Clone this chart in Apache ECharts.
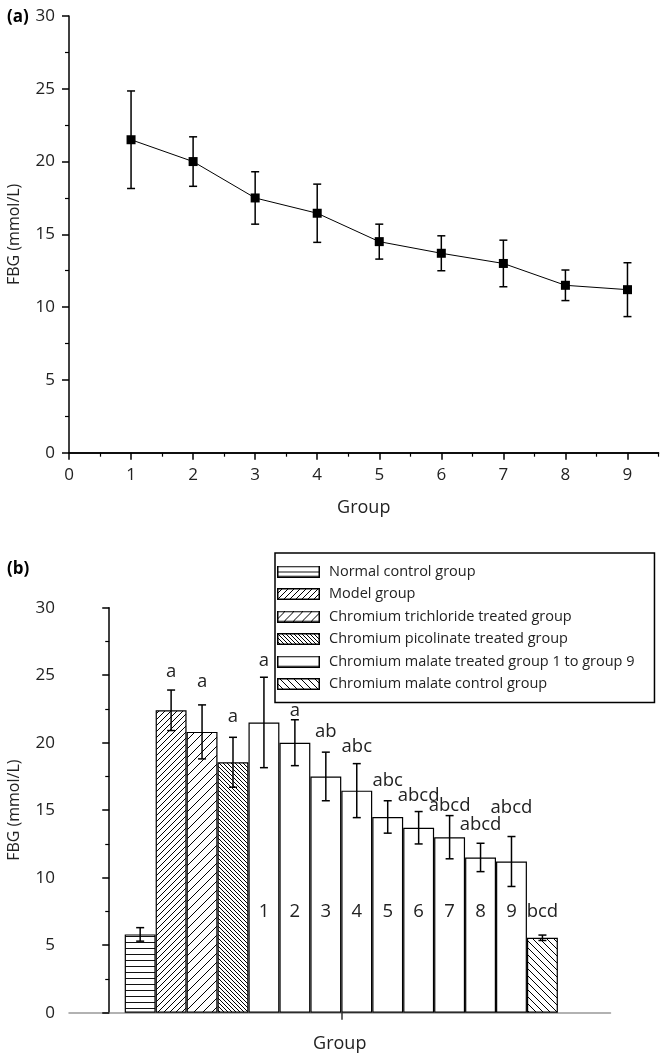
<!DOCTYPE html>
<html><head><meta charset="utf-8">
<script src="https://cdn.jsdelivr.net/npm/echarts@6/dist/echarts.min.js"></script>
<style>html,body{margin:0;padding:0;background:#fff}#c{width:661px;height:1055px}</style>
</head><body><div id="c"></div>
<script>
// ---------- data ----------
const malateGroups = [1, 2, 3, 4, 5, 6, 7, 8, 9];
const malateMean = [21.5, 20.0, 17.5, 16.45, 14.5, 13.7, 13.0, 11.5, 11.2];
const malateSD   = [3.35, 1.7, 1.8, 2.0, 1.2, 1.2, 1.6, 1.05, 1.85];

const groupNames = [
  'Normal control group',
  'Model group',
  'Chromium trichloride treated group',
  'Chromium picolinate treated group',
  'Chromium malate treated group 1 to group 9',
  'Chromium malate control group'
];
// non-malate groups: normal, model, CrCl3, Cr picolinate, malate control
const otherMean = [5.8, 22.4, 20.8, 18.55, 5.55];
const otherSD   = [0.5, 1.5, 2.0, 1.85, 0.2];

// significance letters for the 14 bars (panel b, left to right)
const sigLetters = ['', 'a', 'a', 'a', 'a', 'a', 'ab', 'abc', 'abc', 'abcd', 'abcd', 'abcd', 'abcd', 'bcd'];

const xTicksA = [0, 1, 2, 3, 4, 5, 6, 7, 8, 9];
const xMinorA = [0.5, 1.5, 2.5, 3.5, 4.5, 5.5, 6.5, 7.5, 8.5, 9.5];

// ---------- layout (annotation anchors, in value units) ----------
const letterAnchorY = [null, 25.26, 24.5, 21.9, 26.1, 22.4, 20.8, 19.7, 17.2, 16.1, 15.3, 13.9, 15.2, 7.5];
const numberAnchorY = 7.5;

// ---------- build ----------
const FONT = '"Open Sans", sans-serif';
const TXT = '#222';

const barMeans = [otherMean[0], otherMean[1], otherMean[2], otherMean[3], ...malateMean, otherMean[4]];
const barSDs   = [otherSD[0], otherSD[1], otherSD[2], otherSD[3], ...malateSD, otherSD[4]];
const barSeriesIdx = [0, 1, 2, 3, 4,4,4,4,4,4,4,4,4, 5];

// fill pattern painters
function paintH(g, w, h, step) {
  g.fillStyle = '#111';
  for (let y = 0; y < h; y += step) g.fillRect(0, y, w, 1);
}
function paintDiag(g, w, h, s, forward) {
  g.strokeStyle = '#000'; g.lineWidth = 1; g.beginPath();
  for (let k = -h - s; k < w + h + s; k += s) {
    if (forward) { g.moveTo(k, h); g.lineTo(k + h, 0); }
    else { g.moveTo(k, 0); g.lineTo(k + h, h); }
  }
  g.stroke();
}
const painters = [
  (g,w,h) => paintH(g, w, h, 6),
  (g,w,h) => paintDiag(g, w, h, 6, true),
  (g,w,h) => paintDiag(g, w, h, 9, true),
  (g,w,h) => paintDiag(g, w, h, 4, false),
  null,
  (g,w,h) => paintDiag(g, w, h, 7, false)
];
const tileSize = [6, 6, 9, 4, 1, 7];
function makeTile(i) {
  if (!painters[i]) return '#fff';
  const s = tileSize[i];
  const c = document.createElement('canvas'); c.width = s; c.height = s;
  const g = c.getContext('2d'); g.fillStyle = '#fff'; g.fillRect(0, 0, s, s);
  painters[i](g, s, s);
  return {image:c, repeat:'repeat'};
}
function makeIcon(i) {
  const w = 43, h = 12;
  const c = document.createElement('canvas'); c.width = w; c.height = h;
  const g = c.getContext('2d'); g.fillStyle = '#fff'; g.fillRect(0, 0, w, h);
  if (painters[i]) painters[i](g, w, h);
  g.strokeStyle = '#000'; g.lineWidth = 1.5; g.strokeRect(0.75, 0.75, w - 1.5, h - 1.5);
  return 'image://' + c.toDataURL();
}
const fills = groupNames.map((n, i) => makeTile(i));

function errRender(params, api) {
  const x = api.value(0), m = api.value(1), s = api.value(2);
  const t = api.coord([x, m + s]), b = api.coord([x, m - s]);
  const cw = 4, st = {stroke:'#000', lineWidth:1.5};
  return {type:'group', children:[
    {type:'line', shape:{x1:t[0], y1:t[1], x2:b[0], y2:b[1]}, style:st},
    {type:'line', shape:{x1:t[0]-cw, y1:t[1], x2:t[0]+cw, y2:t[1]}, style:st},
    {type:'line', shape:{x1:b[0]-cw, y1:b[1], x2:b[0]+cw, y2:b[1]}, style:st}
  ]};
}
const labelData = { letters: sigLetters, numbers: malateGroups.map(String) };
function textRender(params, api) {
  const p = api.coord([api.value(0), api.value(1)]);
  const txt = labelData[params.seriesName][params.dataIndex];
  return {type:'text', style:{text:txt, x:p[0], y:p[1], align:'center', verticalAlign:'middle',
          fill:TXT, font:'18.5px ' + FONT}};
}

const barSeries = groupNames.map((name, si) => {
  const data = [];
  barMeans.forEach((v, i) => { if (barSeriesIdx[i] === si) data.push([i + 1, v]); });
  return {name, type:'bar', xAxisIndex:2, yAxisIndex:1, data, barWidth:30.9, barGap:'-100%',
          itemStyle:{color:fills[si], borderColor:'#000', borderWidth:1.2},
          emphasis:{disabled:true}, z:2};
});

const axisLine = {show:true, lineStyle:{color:'#000', width:1.5}};
const yAxisCommon = {type:'value', min:0, max:30, interval:5,
  axisLine, axisTick:{show:true, length:7, lineStyle:{color:'#000', width:1.5}},
  minorTick:{show:true, splitNumber:2, length:4, lineStyle:{color:'#000', width:1.2}},
  splitLine:{show:false}, minorSplitLine:{show:false},
  axisLabel:{color:TXT, fontSize:17, fontFamily:FONT, margin:14},
  name:'FBG (mmol/L)', nameLocation:'middle', nameGap:47,
  nameTextStyle:{color:TXT, fontSize:16, fontFamily:FONT}};

const option = {
  animation:false,
  backgroundColor:'#fff',
  title:[
    {text:'(a)', left:2, top:4, textStyle:{fontSize:17, fontWeight:'bold', color:'#000', fontFamily:FONT}},
    {text:'(b)', left:2, top:556, textStyle:{fontSize:17, fontWeight:'bold', color:'#000', fontFamily:FONT}}
  ],
  legend:{
    data:groupNames.map((name, i) => ({name, icon:makeIcon(i)})),
    orient:'vertical', left:275, top:553,
    padding:[11, 20, 11, 2], itemWidth:43, itemHeight:12, itemGap:7.5,
    borderColor:'#000', borderWidth:1.5, selectedMode:false,
    textStyle:{color:TXT, fontSize:14.5, fontFamily:FONT, lineHeight:14, padding:[0,0,0,4]}
  },
  grid:[
    {left:69, right:2.5, top:16, bottom:602.3, outerBoundsMode:'none'},
    {left:69, right:50.5, top:607.7, bottom:42.3, outerBoundsMode:'none'}
  ],
  xAxis:[
    {type:'value', gridIndex:0, position:'bottom', min:0, max:9.5, axisLine,
     axisTick:{show:true, length:7, customValues:xTicksA, lineStyle:{color:'#000', width:1.5}},
     axisLabel:{customValues:xTicksA, color:TXT, fontSize:17, fontFamily:FONT, margin:14},
     splitLine:{show:false},
     name:'Group', nameLocation:'middle', nameGap:46,
     nameTextStyle:{color:TXT, fontSize:18, fontFamily:FONT}},
    {type:'value', gridIndex:0, position:'bottom', min:0, max:9.5,
     axisLine:{show:true, lineStyle:{color:'#000', width:1.5}},
     axisTick:{show:true, length:4, customValues:xMinorA, lineStyle:{color:'#000', width:1.2}},
     axisLabel:{show:false}, splitLine:{show:false}},
    {type:'value', gridIndex:1, position:'bottom', min:-1.3, max:16.2,
     axisLine:{show:true, lineStyle:{color:'#999', width:1.5}},
     axisTick:{show:true, length:7, customValues:[7.5], lineStyle:{color:'#333', width:1.5}},
     axisLabel:{show:false}, splitLine:{show:false},
     name:'Group', nameLocation:'middle', nameGap:22,
     nameTextStyle:{color:TXT, fontSize:18, fontFamily:FONT}}
  ],
  yAxis:[
    Object.assign({gridIndex:0}, yAxisCommon),
    Object.assign({gridIndex:1}, yAxisCommon)
  ],
  series:[
    {type:'line', xAxisIndex:0, yAxisIndex:0, data:malateGroups.map((g,i)=>[g, malateMean[i]]),
     symbol:'rect', symbolSize:9, itemStyle:{color:'#000'}, lineStyle:{color:'#000', width:1},
     emphasis:{disabled:true}, z:3},
    {type:'custom', xAxisIndex:0, yAxisIndex:0, renderItem:errRender, encode:{x:0, y:1},
     data:malateGroups.map((g,i)=>[g, malateMean[i], malateSD[i]]), z:4},
    ...barSeries,
    {type:'custom', xAxisIndex:2, yAxisIndex:1, renderItem:errRender, encode:{x:0, y:1},
     data:barMeans.map((v,i)=>[i+1, v, barSDs[i]]), z:5},
    {type:'custom', name:'letters', xAxisIndex:2, yAxisIndex:1, renderItem:textRender, encode:{x:0, y:1},
     data:sigLetters.map((s,i)=>[i+1, letterAnchorY[i] === null ? 0 : letterAnchorY[i]]), z:6},
    {type:'custom', name:'numbers', xAxisIndex:2, yAxisIndex:1, renderItem:textRender, encode:{x:0, y:1},
     data:malateGroups.map((g,i)=>[i+5, numberAnchorY]), z:6}
  ]
};
const chart = echarts.init(document.getElementById('c'), null, {renderer:'canvas'});
chart.setOption(option);
</script></body></html>
